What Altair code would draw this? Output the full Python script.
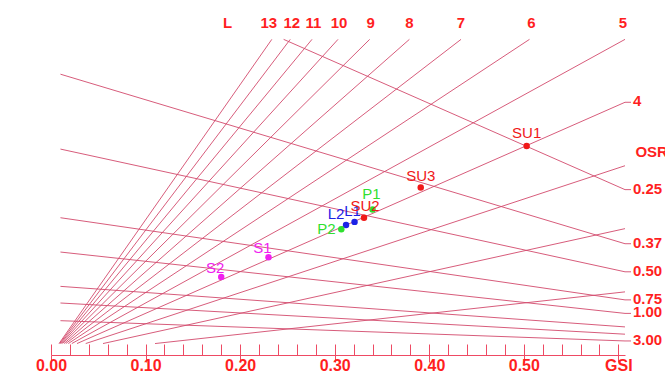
import altair as alt
import pandas as pd

# ---------------------------------------------------------------------------
# Spacemate diagram: GSI (coverage) against FSI (intensity), with lines of
# equal storey count L fanning out from the origin and lines of equal
# open-space ratio OSR sloping down to the right.
# ---------------------------------------------------------------------------

# L lines (storeys): start and end points in (GSI, FSI)
l_names = ["13", "12", "11", "10", "9", "8", "7", "6", "5", "4", "3", "2", "1"]
l_start_gsi = [0.0085, 0.0092, 0.0100, 0.0110, 0.0122, 0.0138, 0.0157,
               0.0183, 0.0220, 0.0275, 0.0367, 0.0550, 0.1100]
l_start_fsi = [0.11, 0.11, 0.11, 0.11, 0.11, 0.11, 0.11,
               0.11, 0.11, 0.11, 0.11, 0.11, 0.11]
l_end_gsi = [0.2335, 0.2530, 0.2760, 0.3035, 0.3370, 0.3790, 0.4336,
             0.5060, 0.6070, 0.6070, 0.6070, 0.6070, 0.6070]
l_end_fsi = [3.035, 3.035, 3.035, 3.035, 3.035, 3.035, 3.035,
             3.035, 3.035, 2.430, 1.820, 1.215, 0.607]
l_labelled = ["13", "12", "11", "10", "9", "8", "7", "6", "5", "4"]

# OSR lines (open-space ratio): start and end points in (GSI, FSI)
osr_names = ["0.25", "0.37", "0.50", "0.75", "1.00", "1.50", "2.00", "3.00"]
osr_start_gsi = [0.246, 0.010, 0.010, 0.010, 0.010, 0.010, 0.010, 0.010]
osr_start_fsi = [3.035, 2.700, 1.980, 1.320, 0.990, 0.660, 0.500, 0.330]
osr_end_gsi = [0.607, 0.607, 0.607, 0.607, 0.607, 0.607, 0.607, 0.607]
osr_end_fsi = [1.590, 1.070, 0.800, 0.530, 0.400, 0.270, 0.200, 0.135]
osr_labelled = ["0.25", "0.37", "0.50", "0.75", "1.00", "3.00"]

# Study sites
site_names = ["SU1", "SU3", "SU2", "P1", "L1", "L2", "P2", "S1", "S2"]
site_groups = ["SU", "SU", "SU", "P", "L", "L", "P", "S", "S"]
site_gsi = [0.503, 0.391, 0.331, 0.340, 0.321, 0.312, 0.307, 0.230, 0.180]
site_fsi = [2.01, 1.61, 1.32, 1.40, 1.28, 1.25, 1.21, 0.94, 0.75]

group_names = ["SU", "L", "P", "S"]
group_colors = ["#f01818", "#1c22e6", "#2fe02f", "#f020f0"]

# Axis ticks
x_major = [0.0, 0.1, 0.2, 0.3, 0.4, 0.5, 0.6]
x_minor = [round(i * 0.02, 2) for i in range(31)]
y_ticks = [round(i * 0.1, 1) for i in range(31)]

# Headings placed beside the line labels
head_text = ["L", "OSR"]
head_gsi = [0.182, 0.618]
head_fsi = [3.19, 1.95]

# ---------------------------------------------------------------------------
RED = "#ff1f1f"
AXIS = "#ee4a64"
LINE = "#d24a6c"
FONT = "Liberation Sans"

rows, ends = [], []
for n, g0, f0, g1, f1 in zip(l_names, l_start_gsi, l_start_fsi, l_end_gsi, l_end_fsi):
    rows += [{"line": "L" + n, "ord": 0, "gsi": g0, "fsi": f0},
             {"line": "L" + n, "ord": 1, "gsi": g1, "fsi": f1}]
    if n in l_labelled:
        ends.append({"text": n, "gsi": g1, "fsi": f1,
                     "side": "top" if f1 > 3 else "right"})
for n, g0, f0, g1, f1 in zip(osr_names, osr_start_gsi, osr_start_fsi, osr_end_gsi, osr_end_fsi):
    rows += [{"line": "O" + n, "ord": 0, "gsi": g0, "fsi": f0},
             {"line": "O" + n, "ord": 1, "gsi": g1, "fsi": f1}]
    if n in osr_labelled:
        ends.append({"text": n, "gsi": g1, "fsi": f1, "side": "right"})

lines_df = pd.DataFrame(rows)
ends_df = pd.DataFrame(ends)
sites_df = pd.DataFrame({"name": site_names, "group": site_groups,
                         "gsi": site_gsi, "fsi": site_fsi})
head_df = pd.DataFrame({"text": head_text, "gsi": head_gsi, "fsi": head_fsi})

xs = alt.Scale(domain=[0, 0.607], nice=False, zero=False)
ys = alt.Scale(domain=[0, 3.0], nice=False, zero=False)

x_axis_main = alt.Axis(
    orient="bottom", values=x_major, title=None, grid=False,
    labelExpr="datum.value >= 0.599 ? 'GSI' : format(datum.value, '.2f')",
    domainColor=AXIS, tickColor=AXIS, tickSize=7, labelPadding=-5,
    labelColor=RED, labelFont=FONT, labelFontSize=16, labelFontWeight="bold",
    labelFlush=False, labelOverlap=False)
x_axis_inner = alt.Axis(
    orient="top", offset=-312, values=x_minor, title=None, grid=False,
    labels=False, domain=False, tickColor=AXIS, tickSize=11)
y_axis = alt.Axis(
    values=y_ticks, title=None, grid=False,
    labelExpr="datum.value >= 2.999 ? 'FSI' : "
              "(datum.value > 0 && round(datum.value * 10) % 5 == 0 ? format(datum.value, '.2f') : '')",
    domainColor=AXIS, tickColor=AXIS, tickSize=6, labelPadding=5,
    labelColor=RED, labelFont=FONT, labelFontSize=16, labelFontWeight="bold",
    labelFlush=False, labelOverlap=False)

color = alt.Color("group:N", scale=alt.Scale(domain=group_names, range=group_colors),
                  legend=None)


def xq(axis=None):
    return alt.X("gsi:Q", scale=xs, axis=axis)


def yq(axis=None):
    return alt.Y("fsi:Q", scale=ys, axis=axis)


lines = alt.Chart(lines_df).mark_line(
    color=LINE, strokeWidth=0.9, clip=False
).encode(x=xq(x_axis_main), y=yq(y_axis), detail="line:N", order="ord:Q")

tails = alt.Chart(ends_df).transform_filter("datum.side == 'right'").mark_rule(
    color=LINE, strokeWidth=0.9, x2Offset=6, clip=False
).encode(x=xq(), x2="gsi:Q", y=yq())

# small horizontal nudges for the crowded storey labels along the top
top_dx = {"13": -3, "12": 1.5, "11": 1.5, "10": 1, "9": 1, "6": 2, "5": -2}
top_text = []
for n in l_labelled:
    if n == "4":
        continue
    top_text.append(
        alt.Chart(ends_df).transform_filter(
            f"datum.side == 'top' && datum.text == '{n}'"
        ).mark_text(
            color=RED, font=FONT, fontSize=15, fontWeight="bold",
            dx=top_dx.get(n, 0), dy=-16, baseline="middle", align="center", clip=False
        ).encode(x=xq(), y=yq(), text="text:N")
    )

right_text = alt.Chart(ends_df).transform_filter("datum.side == 'right'").mark_text(
    color=RED, font=FONT, fontSize=15, fontWeight="bold", dx=8, dy=-1,
    baseline="middle", align="left", clip=False
).encode(x=xq(), y=yq(), text="text:N")

heads = alt.Chart(head_df).mark_text(
    color=RED, font=FONT, fontSize=15, fontWeight="bold",
    baseline="middle", align="left", clip=False
).encode(x=xq(), y=yq(), text="text:N")

points = alt.Chart(sites_df).mark_circle(size=42, opacity=1, clip=False).encode(
    x=xq(x_axis_inner), y=yq(), color=color)

# label offsets (dx, dy) in pixels for each site name
label_offsets = {
    "S2": (-6, -9), "S1": (-6, -9), "P2": (-15, 0), "L2": (-10, -11),
    "L1": (-2, -11), "P1": (-1, -15), "SU2": (1, -12), "SU3": (0, -12),
    "SU1": (0, -13),
}
site_labels = []
for name, (dx, dy) in label_offsets.items():
    site_labels.append(
        alt.Chart(sites_df).transform_filter(f"datum.name == '{name}'").mark_text(
            font=FONT, fontSize=15, dx=dx, dy=dy, baseline="middle",
            align="center", clip=False
        ).encode(x=xq(), y=yq(), text="name:N", color=color)
    )

chart = alt.layer(
    lines, tails, points, *top_text, right_text, heads, *site_labels
).resolve_axis(x="independent").properties(
    width=574, height=312,
    autosize=alt.AutoSizeParams(type="none"),
    padding={"left": 51, "top": 43, "right": 40, "bottom": 24},
    background="white",
).configure_view(stroke=None)

chart.save("out.html", embed_options={"renderer": "svg", "actions": False})
